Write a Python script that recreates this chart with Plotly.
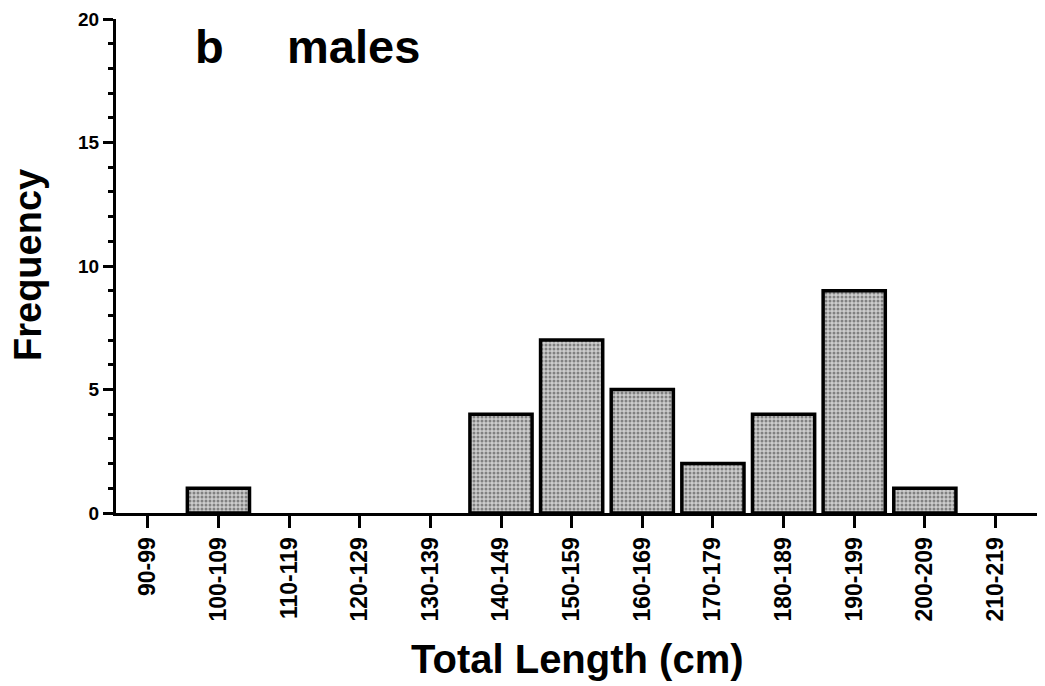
import plotly.graph_objects as go

categories = ["90-99", "100-109", "110-119", "120-129", "130-139", "140-149",
              "150-159", "160-169", "170-179", "180-189", "190-199", "200-209", "210-219"]
frequency = [0, 1, 0, 0, 0, 4, 7, 5, 2, 4, 9, 1, 0]
y_ticks = [0, 5, 10, 15, 20]

FONT = "Liberation Sans, Arial, Helvetica, sans-serif"

# page offset introduced by the default body margin of the html page
OFF = 8
W, H = 1045 - OFF, 686 - OFF
L = 116 - OFF
T = 19 - OFF
R = W - (1040 - OFF)
B = H - (513 - OFF)
pw, ph = W - L - R, H - T - B

line_widths = [3.5 if v > 0 else 0 for v in frequency]

fig = go.Figure()
fig.add_trace(go.Bar(
    x=categories, y=frequency, width=0.88,
    marker=dict(color="#bcbcbc", line=dict(color="black", width=line_widths),
                pattern=dict(shape=".", fgcolor="#333333", bgcolor="#cccccc", size=4, solidity=0.45)),
    showlegend=False,
))

fig.update_layout(
    width=W, height=H,
    margin=dict(l=L, r=R, t=T, b=B, autoexpand=False),
    paper_bgcolor="white", plot_bgcolor="white",
    font=dict(family=FONT, color="black"),
    xaxis=dict(
        range=[-0.45, 12.63], showline=True, linecolor="black", linewidth=3,
        ticks="outside", ticklen=12, tickwidth=3, tickcolor="black", automargin=False,
        tickangle=-90, tickfont=dict(size=23, weight="bold"), showgrid=False, zeroline=False,
        ticklabeloverflow="allow",
    ),
    yaxis=dict(
        range=[0, 20], tickvals=y_ticks, showline=True, linecolor="black", linewidth=3,
        ticks="outside", ticklen=10, tickwidth=3, tickcolor="black", automargin=False,
        tickfont=dict(size=19, weight="bold"), showgrid=False, zeroline=False,
        ticklabeloverflow="allow",
        minor=dict(dtick=1, ticks="outside", ticklen=5, tickwidth=2.5, tickcolor="black", showgrid=False),
    ),
)

def px_x(x):
    return (x - OFF - L) / pw

def px_y(y):
    return (H - B - (y - OFF)) / ph

fig.add_annotation(text="Frequency", xref="paper", yref="paper", x=px_x(28), y=px_y(265),
                   textangle=-90, showarrow=False, xanchor="center", yanchor="middle",
                   font=dict(size=38, weight="bold", family=FONT))
fig.add_annotation(text="Total Length (cm)", xref="paper", yref="paper", x=px_x(577), y=px_y(659),
                   showarrow=False, xanchor="center", yanchor="middle",
                   font=dict(size=40, weight="bold", family=FONT))
fig.add_annotation(text="b", xref="paper", yref="paper", x=px_x(193), y=px_y(46),
                   showarrow=False, xanchor="left", yanchor="middle",
                   font=dict(size=47, weight="bold", family=FONT))
fig.add_annotation(text="males", xref="paper", yref="paper", x=px_x(285), y=px_y(46),
                   showarrow=False, xanchor="left", yanchor="middle",
                   font=dict(size=47, weight="bold", family=FONT))

fig.write_html("out.html")
